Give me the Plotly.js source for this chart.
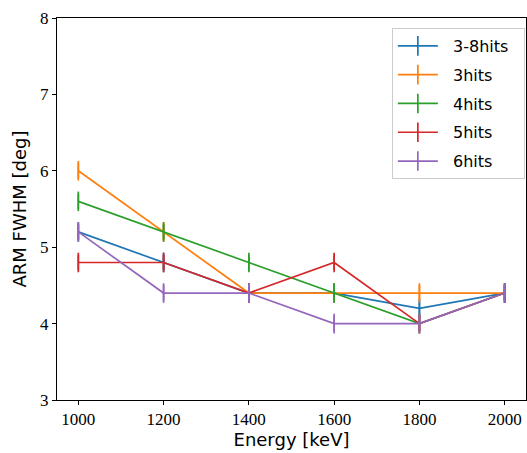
<!DOCTYPE html>
<html>
<head>
<meta charset="utf-8">
<script src="https://cdn.plot.ly/plotly-3.0.1.min.js"></script>
<style>html,body{margin:0;padding:0;background:#fff;}#chart{width:527px;height:453px;}</style>
</head>
<body>
<div id="chart"></div>
<script>
// ARM FWHM versus incident energy, per hit multiplicity
const energies = [1000, 1200, 1400, 1600, 1800, 2000];
const seriesNames = ["3-8hits", "3hits", "4hits", "5hits", "6hits"];
const arm_3to8 = [5.2, 4.8, 4.4, 4.4, 4.2, 4.4];
const arm_3 = [6.0, 5.2, 4.4, 4.4, 4.4, 4.4];
const arm_4 = [5.6, 5.2, 4.8, 4.4, 4.0, 4.4];
const arm_5 = [4.8, 4.8, 4.4, 4.8, 4.0, 4.4];
const arm_6 = [5.2, 4.4, 4.4, 4.0, 4.0, 4.4];
const armErr = [0.1, 0.1, 0.1, 0.1, 0.1, 0.1];
const colors = ["#1f77b4", "#ff7f0e", "#2ca02c", "#d62728", "#9467bd"];

// padded legend labels: a little space before the text and after it
const pad = "\u00a0\u00a0";
const allSeries = [arm_3to8, arm_3, arm_4, arm_5, arm_6];
const traces = allSeries.map((vals, i) => ({
  x: energies,
  y: vals,
  name: pad + seriesNames[i] + pad,
  legendgroup: "g" + i,
  type: "scatter",
  mode: "lines+markers",
  line: {color: colors[i], width: 1.7},
  marker: {symbol: "line-ns", size: 14, line: {color: colors[i], width: 1.7}, color: colors[i]},
  error_y: {type: "data", array: armErr, visible: true, color: colors[i], thickness: 1.7, width: 0}
}));

const layout = {
  width: 527,
  height: 453,
  margin: {l: 57, r: 1, t: 18, b: 53},
  paper_bgcolor: "#fff",
  plot_bgcolor: "#fff",
  showlegend: true,
  legend: {
    x: 0.714, y: 0.974, xanchor: "left", yanchor: "top",
    bgcolor: "rgba(255,255,255,0.8)",
    bordercolor: "#cccccc", borderwidth: 1,
    tracegroupgap: 5,
    itemwidth: 40,
    font: {family: "DejaVu Sans, sans-serif", size: 16, color: "#000"}
  },
  xaxis: {
    range: [950, 2050],
    tickvals: [1000, 1200, 1400, 1600, 1800, 2000],
    ticks: "outside", ticklen: 4, tickwidth: 1, tickcolor: "#000",
    showgrid: false, zeroline: false,
    showline: true, linecolor: "#000", linewidth: 1, mirror: true,
    tickfont: {family: "Liberation Serif, serif", size: 17, color: "#000"},
    title: {text: "Energy [keV]", font: {family: "DejaVu Sans, sans-serif", size: 18, color: "#000"}, standoff: 4}
  },
  yaxis: {
    range: [3, 8],
    tickvals: [3, 4, 5, 6, 7, 8],
    ticks: "outside", ticklen: 4, tickwidth: 1, tickcolor: "#000",
    showgrid: false, zeroline: false,
    showline: true, linecolor: "#000", linewidth: 1, mirror: true,
    tickfont: {family: "Liberation Serif, serif", size: 17, color: "#000"},
    title: {text: "ARM FWHM [deg]", font: {family: "DejaVu Sans, sans-serif", size: 18, color: "#000"}, standoff: 8}
  }
};

Plotly.newPlot("chart", traces, layout, {displayModeBar: false, staticPlot: true});
</script>
</body>
</html>
